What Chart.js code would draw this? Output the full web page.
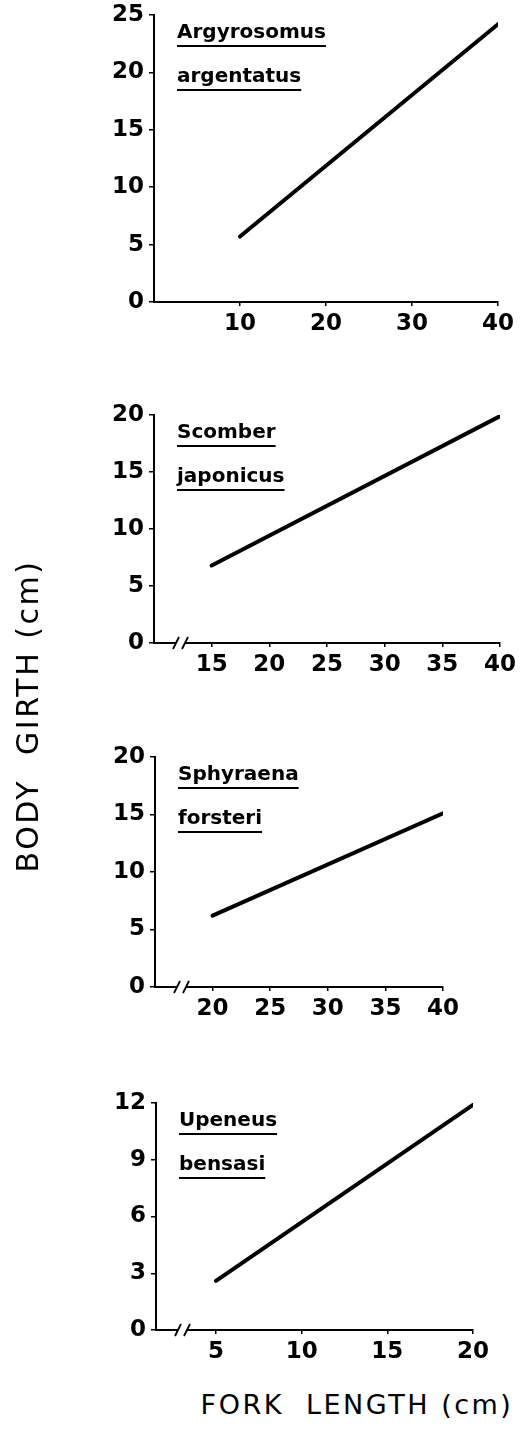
<!DOCTYPE html>
<html>
<head>
<meta charset="utf-8">
<script src="https://cdn.jsdelivr.net/npm/chart.js@4.4.1/dist/chart.umd.min.js"></script>
<style>
  html, body { margin: 0; padding: 0; background: #fff; }
  #page { position: relative; width: 524px; height: 1441px; overflow: hidden; }
  canvas { position: absolute; left: 0; }
  .title { position: absolute; font-family: "DejaVu Sans", sans-serif; color: #000; white-space: pre; text-align: center; }
  #ytitle { left: -172px; top: 696px; width: 400px; height: 40px; line-height: 40px; font-size: 30px; letter-spacing: 2.5px; transform: rotate(-90deg); }
  #xtitle { left: 157px; top: 1390px; width: 400px; height: 30px; line-height: 30px; font-size: 27px; letter-spacing: 2.5px; }
</style>
</head>
<body>
<div id="page">
  <canvas id="c1"></canvas>
  <canvas id="c2"></canvas>
  <canvas id="c3"></canvas>
  <canvas id="c4"></canvas>
  <div id="ytitle" class="title">BODY  GIRTH (cm)</div>
  <div id="xtitle" class="title">FORK  LENGTH (cm)</div>
</div>
<script>
// regression lines: fork length (x) vs body girth (y)
const P1_X = [10, 40];
const P1_Y = [5.7, 24.2];
const P1_XTICKS = [10, 20, 30, 40];
const P1_YTICKS = [0, 5, 10, 15, 20, 25];

const P2_X = [15, 40];
const P2_Y = [6.8, 19.9];
const P2_XTICKS = [15, 20, 25, 30, 35, 40];
const P2_YTICKS = [0, 5, 10, 15, 20];

const P3_X = [20, 40];
const P3_Y = [6.2, 15.1];
const P3_XTICKS = [20, 25, 30, 35, 40];
const P3_YTICKS = [0, 5, 10, 15, 20];

const P4_X = [5, 20];
const P4_Y = [2.6, 11.9];
const P4_XTICKS = [5, 10, 15, 20];
const P4_YTICKS = [0, 3, 6, 9, 12];

const SPECIES = [
  ['Argyrosomus', 'argentatus'],
  ['Scomber', 'japonicus'],
  ['Sphyraena', 'forsteri'],
  ['Upeneus', 'bensasi'],
];

const FONT = '"DejaVu Sans", sans-serif';
const PAD_TOP = 20;
const XAXIS_H = 45;

// species name and the axis break
const panelDecor = {
  id: 'panelDecor',
  afterDraw(chart, args, opts) {
    const { ctx, chartArea } = chart;
    ctx.save();
    ctx.strokeStyle = '#000';
    ctx.fillStyle = '#000';

    // axis break "//"
    if (opts.broken) {
      const bx = chartArea.left + 22;
      const by = chartArea.bottom;
      ctx.fillStyle = '#fff';
      ctx.fillRect(bx, by - 3, 9, 6);
      ctx.lineWidth = 1.8;
      [bx, bx + 9].forEach(x => {
        ctx.beginPath();
        ctx.moveTo(x - 3, by + 6);
        ctx.lineTo(x + 3, by - 6);
        ctx.stroke();
      });
      ctx.fillStyle = '#000';
    }

    // underlined species name
    ctx.font = 'bold 20px ' + FONT;
    ctx.textBaseline = 'alphabetic';
    ctx.textAlign = 'left';
    const lx = chartArea.left + 23;
    opts.name.forEach((word, i) => {
      const base = chartArea.top + 23 + i * 44;
      ctx.fillText(word, lx, base);
      const w = ctx.measureText(word).width;
      ctx.fillRect(lx, base + 7, w, 2);
    });
    ctx.restore();
  }
};

function makePanel(id, box, xs, ys, xTicks, yTicks, xRange, name, broken) {
  const canvas = document.getElementById(id);
  canvas.width = 524;
  canvas.height = box.bottom - box.top + PAD_TOP + XAXIS_H;
  canvas.style.top = (box.top - PAD_TOP) + 'px';

  const points = xs.map((x, i) => ({ x, y: ys[i] }));
  const tickFont = { family: FONT, size: 23, weight: 'bold' };

  return new Chart(canvas, {
    type: 'line',
    data: {
      datasets: [{
        data: points,
        borderColor: '#000',
        borderWidth: 4,
        borderCapStyle: 'round',
        pointRadius: 0,
        tension: 0,
      }],
    },
    options: {
      responsive: false,
      animation: false,
      devicePixelRatio: 1,
      layout: { padding: { top: PAD_TOP, left: 0, right: 524 - box.right, bottom: 0 } },
      plugins: {
        legend: { display: false },
        tooltip: { enabled: false },
        panelDecor: { name, broken },
      },
      scales: {
        x: {
          type: 'linear',
          min: xRange[0],
          max: xRange[1],
          afterBuildTicks: s => { s.ticks = xTicks.map(v => ({ value: v })); },
          afterFit: s => { s.height = XAXIS_H; },
          border: { color: '#000', width: 2 },
          grid: { display: true, drawOnChartArea: false, drawTicks: true, tickLength: 4, color: '#000', lineWidth: 1.5 },
          ticks: { color: '#000', padding: 4, maxRotation: 0, autoSkip: false, font: tickFont },
        },
        y: {
          min: yTicks[0],
          max: yTicks[yTicks.length - 1],
          afterBuildTicks: s => { s.ticks = yTicks.map(v => ({ value: v })); },
          afterFit: s => { s.width = box.left; },
          border: { color: '#000', width: 2 },
          grid: { display: true, drawOnChartArea: false, drawTicks: true, tickLength: 5, color: '#000', lineWidth: 1.5 },
          ticks: { color: '#000', padding: 5, autoSkip: false, font: tickFont },
        },
      },
    },
    plugins: [panelDecor],
  });
}

makePanel('c1', { top: 15, bottom: 302, left: 154, right: 498 }, P1_X, P1_Y, P1_XTICKS, P1_YTICKS, [0, 40], SPECIES[0], false);
makePanel('c2', { top: 415, bottom: 643, left: 154, right: 500 }, P2_X, P2_Y, P2_XTICKS, P2_YTICKS, [10, 40], SPECIES[1], true);
makePanel('c3', { top: 757, bottom: 987, left: 155, right: 443 }, P3_X, P3_Y, P3_XTICKS, P3_YTICKS, [15, 40], SPECIES[2], true);
makePanel('c4', { top: 1103, bottom: 1330, left: 156, right: 473 }, P4_X, P4_Y, P4_XTICKS, P4_YTICKS, [1.5, 20], SPECIES[3], true);
</script>
</body>
</html>
